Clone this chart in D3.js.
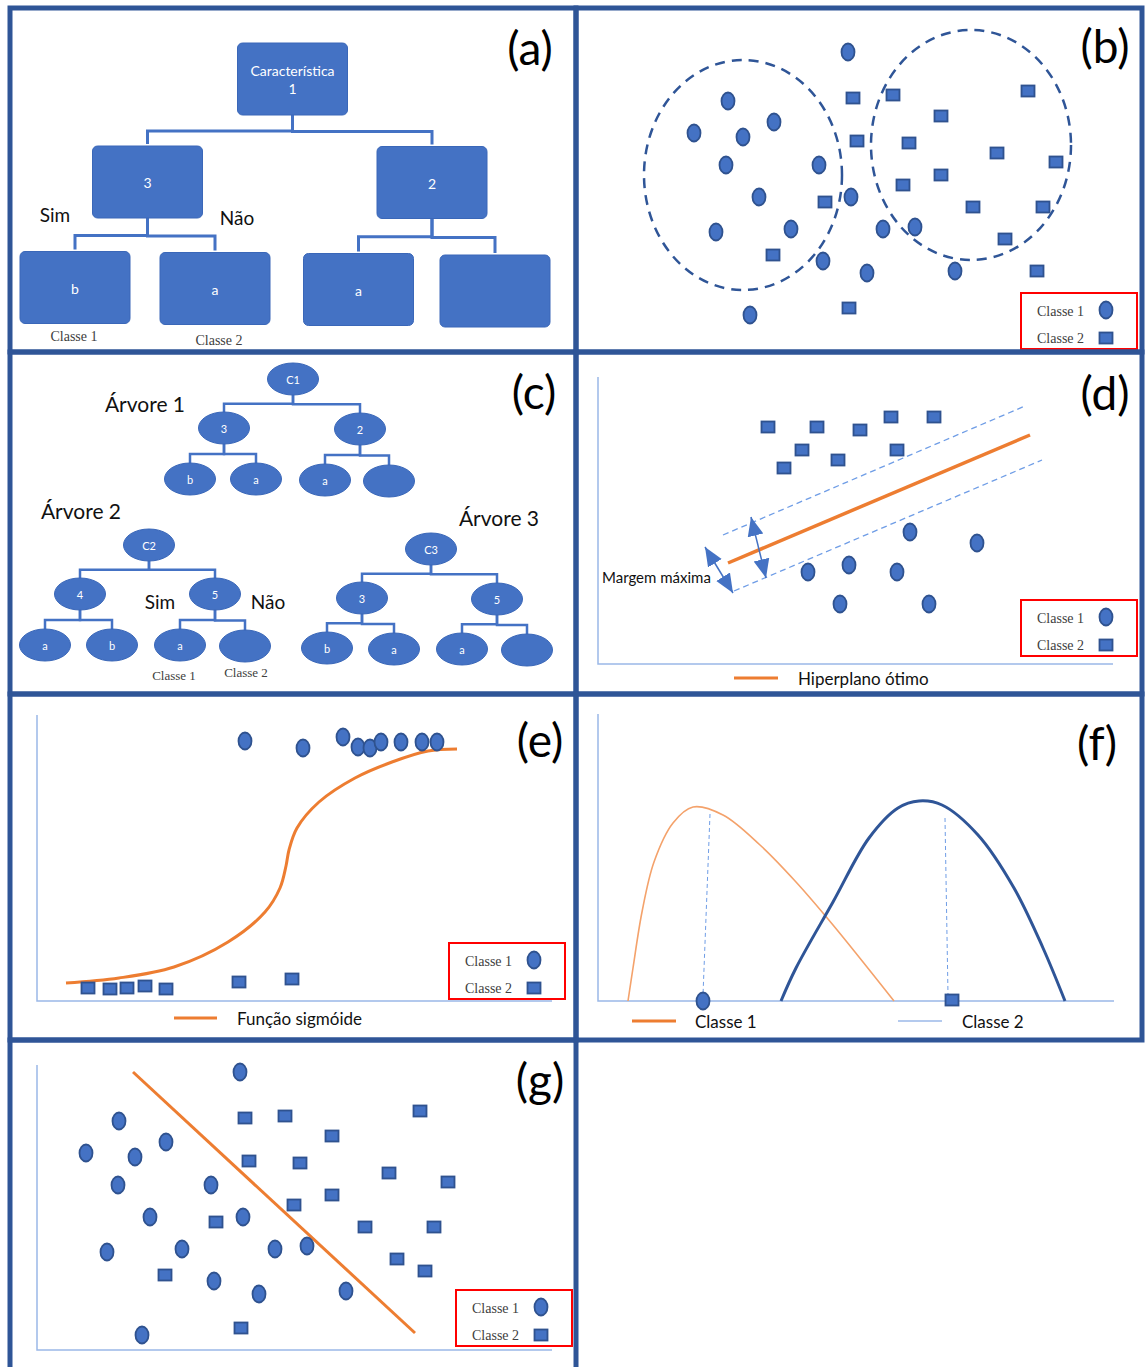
<!DOCTYPE html>
<meta charset="utf-8">
<html>
<style>
body { margin: 0; background: #fff; }
svg text { font-family: Lato, "Open Sans", sans-serif; }
svg text.serif { font-family: "Liberation Serif", "DejaVu Serif", serif; fill: #404040; }
</style>
<body>
<script src="https://cdn.jsdelivr.net/npm/d3@7"></script>
<script>

var W = 1147, H = 1367;
var blue = "#4472c4", dark = "#2f528f", frameCol = "#2f5597",
    orange = "#ed7d31", axisCol = "#9bb8e8", dashCol = "#6f9de6";

// ---- data, in panel-local pixel units ----
var panelIds = ["(a)", "(b)", "(c)", "(d)", "(e)", "(f)", "(g)"];
var legendLabels = ["Classe 1", "Classe 2"];

// trees: [label, cx, cy, parent index]
var treeA = [["Característica|1", 282.5, 71, -1], ["3", 137.5, 174, 0], ["2", 422, 174.5, 0],
  ["b", 65, 279.5, 1], ["a", 205, 280.5, 1], ["a", 348.5, 281.5, 2], ["", 485, 283, 2]];
var treeC1 = [["C1", 283, 27, -1], ["3", 214, 76, 0], ["2", 350, 77, 0],
  ["b", 180, 127, 1], ["a", 246, 127, 1], ["a", 315, 128, 2], ["", 379, 129, 2]];
var treeC2 = [["C2", 139, 193, -1], ["4", 70, 242, 0], ["5", 205, 242, 0],
  ["a", 35, 293, 1], ["b", 102, 293, 1], ["a", 170, 293, 2], ["", 235, 294, 2]];
var treeC3 = [["C3", 421, 197, -1], ["3", 352, 246, 0], ["5", 487, 247, 0],
  ["b", 317, 296, 1], ["a", 384, 297, 1], ["a", 452, 297, 2], ["", 517, 298, 2]];

// (b) clustering
var bClass1 = [[272,44],[152,93],[118,125],[167,129],[198,114],[150,157],[243,157],[183,189],[275,189],
  [140,224],[215,221],[307,221],[339,219],[247,253],[291,265],[379,263],[174,307]];
var bClass2 = [[277,90],[317,87],[452,83],[365,108],[281,133],[333,135],[421,145],[480,154],[365,167],
  [327,177],[249,194],[397,199],[467,199],[429,231],[197,247],[461,263],[273,300]];
var bClusters = [[167, 167, 99, 115], [395, 137, 100, 115]];

// (d) SVM
var dClass2 = [[192,75],[241,75],[284,78],[315,65],[358,65],[226,98],[262,108],[321,98],[208,116]];
var dClass1 = [[334,180],[401,191],[232,220],[273,213],[321,220],[264,252],[353,252]];
var dHyperplane = [[152,211],[454,83]];
var dMargins = [[[147,183],[449,54]], [[158,239],[466,108]]];
var dArrows = [[[129,195],[157,241]], [[175,165],[190,226]]];

// (e) logistic
var eClass1 = [[235,47],[293,54],[333,43],[348,53],[360,54],[371,48],[391,48],[412,48],[427,48]];
var eClass2 = [[78,294],[100,295],[117,294],[135,292],[156,295],[229,288],[282,285]];
var eSigmoid = [[56,289],[109,284],[164,273],[218,248],[255,218],[270,194],[276,172],[279,156],
  [287,134],[309,108],[345,84],[382,68],[418,57],[447,55]];

// (f) naive bayes
var fCurve1 = [[52,307],[57,274],[66,218],[78,168],[97,129],[117,113],[147,121],[184,151],[220,188],[257,231],[318,307]];
var fCurve2 = [[205,307],[220,274],[257,208],[293,144],[322,114],[343,107],[366,111],[402,141],[438,194],[467,254],[489,307]];
var fMeans = [[[134,120],[127,301]], [[369,124],[372,301]]];
var fClass1 = [[127,307]], fClass2 = [[376,306]];

// (g) linear classifier
var gClass1 = [[230,32],[109,81],[156,102],[76,113],[125,117],[108,145],[201,145],[140,177],[233,177],
  [97,212],[172,209],[265,209],[297,206],[204,241],[249,254],[336,251],[132,295]];
var gClass2 = [[235,78],[275,76],[410,71],[322,96],[239,121],[290,123],[379,133],[438,142],[322,155],
  [284,165],[206,182],[355,187],[424,187],[387,219],[415,231],[155,235],[231,288]];
var gBoundary = [[123,32],[405,293]];

// ---- layout ----
var frames = [
  {x: 10, y: 8, w: 566, h: 344}, {x: 576, y: 8, w: 566, h: 344},
  {x: 10, y: 352, w: 566, h: 342}, {x: 576, y: 352, w: 566, h: 342},
  {x: 10, y: 694, w: 566, h: 346}, {x: 576, y: 694, w: 566, h: 346},
  {x: 10, y: 1040, w: 566, h: 334}
];
var labelPos = [[520,39],[529,37],[524,39],[529,40],[530,45],[521,48],[530,39]];

var svg = d3.select("body").append("svg").attr("width", W).attr("height", H);
var defs = svg.append("defs");
defs.append("marker").attr("id", "tri")
    .attr("viewBox", "0 0 10 10").attr("refX", 10).attr("refY", 5)
    .attr("markerWidth", 19).attr("markerHeight", 19)
    .attr("markerUnits", "userSpaceOnUse").attr("orient", "auto-start-reverse")
  .append("path").attr("d", "M0,0.8L10,5L0,9.2z").attr("fill", blue);

// one group + scales per panel
var P = frames.map(function(f) {
  return {
    g: svg.append("g"),
    x: d3.scaleLinear().domain([0, f.w]).range([f.x, f.x + f.w]),
    y: d3.scaleLinear().domain([0, f.h]).range([f.y, f.y + f.h])
  };
});

function drawCircles(p, data) {
  p.g.selectAll(null).data(data).enter().append("ellipse")
    .attr("cx", d => p.x(d[0])).attr("cy", d => p.y(d[1]))
    .attr("rx", 6.5).attr("ry", 8.5)
    .attr("fill", blue).attr("stroke", dark).attr("stroke-width", 1.8);
}
function drawSquares(p, data) {
  p.g.selectAll(null).data(data).enter().append("rect")
    .attr("x", d => p.x(d[0]) - 6.5).attr("y", d => p.y(d[1]) - 5.5)
    .attr("width", 13).attr("height", 11)
    .attr("fill", blue).attr("stroke", dark).attr("stroke-width", 1.8);
}
function drawAxes(p, l, t, b, r) {
  p.g.append("path").attr("fill", "none").attr("stroke", axisCol).attr("stroke-width", 1.5)
    .attr("d", "M" + p.x(l) + "," + p.y(t) + "V" + p.y(b) + "H" + p.x(r));
}
function drawLegend(p, lx, ty) {
  p.g.append("rect").attr("x", p.x(lx)).attr("y", p.y(ty)).attr("width", 116).attr("height", 56)
    .attr("fill", "#fff").attr("stroke", "#ff0000").attr("stroke-width", 2);
  p.g.selectAll(null).data(legendLabels).enter().append("text").attr("class", "serif")
    .attr("x", p.x(lx + 16)).attr("y", (d, i) => p.y(ty + 18 + i * 27))
    .attr("dominant-baseline", "central").attr("font-size", 14).text(d => d);
  drawCircles(p, [[lx + 85, ty + 17]]);
  drawSquares(p, [[lx + 85, ty + 45]]);
}
function lineLegend(p, x0, x1, y, col, w, label, tx) {
  p.g.append("line").attr("x1", p.x(x0)).attr("x2", p.x(x1)).attr("y1", p.y(y)).attr("y2", p.y(y))
    .attr("stroke", col).attr("stroke-width", w);
  p.g.append("text").attr("x", p.x(tx)).attr("y", p.y(y)).attr("dominant-baseline", "central")
    .attr("font-size", 17).attr("fill", "#111").text(label);
}
function note(p, x, y, s, size, cls) {
  return p.g.append("text").attr("class", cls || null).attr("x", p.x(x)).attr("y", p.y(y))
    .attr("text-anchor", "middle").attr("dominant-baseline", "central")
    .attr("font-size", size).attr("fill", "#111").text(s);
}
function drawTree(p, nodes, kind, w, h, gap, sw, fs) {
  p.g.selectAll(null).data(nodes.filter(n => n[3] >= 0)).enter().append("path")
    .attr("fill", "none").attr("stroke", blue).attr("stroke-width", sw)
    .attr("d", function(n) {
      var par = nodes[n[3]];
      var b = p.y(par[2] + h / 2), t = p.y(n[2] - h / 2) - gap;
      var m = b + (t + gap - b) * 0.52;
      return "M" + p.x(par[1]) + "," + b + "V" + m + "H" + p.x(n[1]) + "V" + t;
    });
  var node = p.g.selectAll(null).data(nodes).enter().append("g")
    .attr("transform", n => "translate(" + p.x(n[1]) + "," + p.y(n[2]) + ")");
  if (kind === "box") {
    node.append("rect").attr("x", -w / 2).attr("y", -h / 2).attr("width", w).attr("height", h)
      .attr("rx", 5).attr("fill", blue).attr("stroke", "#3a67b8").attr("stroke-width", 1);
  } else {
    node.append("ellipse").attr("rx", w / 2).attr("ry", h / 2)
      .attr("fill", blue).attr("stroke", "#3a67b8").attr("stroke-width", 1);
  }
  var txt = node.append("text").attr("text-anchor", "middle").attr("fill", "#fff")
    .attr("font-size", fs).attr("dominant-baseline", "central");
  txt.each(function(n) {
    var parts = n[0].split("|"), t = d3.select(this);
    parts.forEach(function(s, i) {
      t.append("tspan").attr("x", 0).attr("y", (i - (parts.length - 1) / 2) * 18).text(s);
    });
  });
}

// (a) decision tree
drawTree(P[0], treeA, "box", 110, 72, 2, 3, 14);
note(P[0], 45, 206, "Sim", 19);
note(P[0], 227, 209, "Não", 19);
note(P[0], 64, 328, "Classe 1", 14, "serif");
note(P[0], 209, 332, "Classe 2", 14, "serif");

// (b) clusters
P[1].g.selectAll(null).data(bClusters).enter().append("ellipse")
  .attr("cx", d => P[1].x(d[0])).attr("cy", d => P[1].y(d[1]))
  .attr("rx", d => d[2]).attr("ry", d => d[3])
  .attr("fill", "none").attr("stroke", frameCol).attr("stroke-width", 2.5)
  .attr("stroke-dasharray", "10,7");
drawCircles(P[1], bClass1);
drawSquares(P[1], bClass2);
drawLegend(P[1], 445, 285);

// (c) random forest
drawTree(P[2], treeC1, "ellipse", 51, 32, 0, 2.5, 11);
drawTree(P[2], treeC2, "ellipse", 51, 32, 0, 2.5, 11);
drawTree(P[2], treeC3, "ellipse", 51, 32, 0, 2.5, 11);
note(P[2], 135, 51, "Árvore 1", 21);
note(P[2], 71, 158, "Árvore 2", 21);
note(P[2], 489, 165, "Árvore 3", 21);
note(P[2], 150, 249, "Sim", 19);
note(P[2], 258, 249, "Não", 19);
note(P[2], 164, 323, "Classe 1", 13, "serif");
note(P[2], 236, 320, "Classe 2", 13, "serif");

// (d) SVM
var pd = P[3], seg = d3.line().x(d => pd.x(d[0])).y(d => pd.y(d[1]));
drawAxes(pd, 22, 25, 312, 537);
pd.g.selectAll(null).data(dMargins).enter().append("path").attr("d", seg)
  .attr("stroke", dashCol).attr("stroke-width", 1.3).attr("stroke-dasharray", "6,4").attr("fill", "none");
pd.g.append("path").attr("d", seg(dHyperplane)).attr("stroke", orange).attr("stroke-width", 3.5);
pd.g.selectAll(null).data(dArrows).enter().append("path").attr("d", seg)
  .attr("stroke", blue).attr("stroke-width", 1.5)
  .attr("marker-start", "url(#tri)").attr("marker-end", "url(#tri)");
drawSquares(pd, dClass2);
drawCircles(pd, dClass1);
pd.g.append("text").attr("x", pd.x(26)).attr("y", pd.y(225)).attr("dominant-baseline", "central")
  .attr("font-size", 15).attr("fill", "#111").text("Margem máxima");
drawLegend(pd, 445, 248);
lineLegend(pd, 158, 202, 326, orange, 3, "Hiperplano ótimo", 222);

// (e) logistic regression
var pe = P[4];
drawAxes(pe, 27, 21, 307, 542);
pe.g.append("path").attr("fill", "none").attr("stroke", orange).attr("stroke-width", 3)
  .attr("d", d3.line().x(d => pe.x(d[0])).y(d => pe.y(d[1])).curve(d3.curveCatmullRom)(eSigmoid));
drawCircles(pe, eClass1);
drawSquares(pe, eClass2);
drawLegend(pe, 439, 249);
lineLegend(pe, 164, 207, 324, orange, 3, "Função sigmóide", 227);

// (f) naive bayes
var pf = P[5], curve = d3.line().x(d => pf.x(d[0])).y(d => pf.y(d[1])).curve(d3.curveCatmullRom);
drawAxes(pf, 22, 20, 307, 538);
pf.g.append("path").attr("d", curve(fCurve1)).attr("fill", "none").attr("stroke", "#f4a26b").attr("stroke-width", 1.6);
pf.g.append("path").attr("d", curve(fCurve2)).attr("fill", "none").attr("stroke", frameCol).attr("stroke-width", 3);
pf.g.selectAll(null).data(fMeans).enter().append("path")
  .attr("d", d3.line().x(d => pf.x(d[0])).y(d => pf.y(d[1])))
  .attr("stroke", dashCol).attr("stroke-width", 1).attr("stroke-dasharray", "4,3");
drawCircles(pf, fClass1);
drawSquares(pf, fClass2);
lineLegend(pf, 56, 100, 327, orange, 3, "Classe 1", 119);
lineLegend(pf, 322, 366, 327, axisCol, 1.5, "Classe 2", 386);

// (g) linear separation
var pg = P[6];
drawAxes(pg, 27, 25, 310, 542);
pg.g.append("path").attr("stroke", orange).attr("stroke-width", 3)
  .attr("d", d3.line().x(d => pg.x(d[0])).y(d => pg.y(d[1]))(gBoundary));
drawCircles(pg, gClass1);
drawSquares(pg, gClass2);
drawLegend(pg, 446, 250);

// panel letters
P.forEach(function(p, i) {
  p.g.append("text").attr("x", p.x(labelPos[i][0])).attr("y", p.y(labelPos[i][1]))
    .attr("text-anchor", "middle").attr("dominant-baseline", "central")
    .attr("font-size", 46).attr("fill", "#000").text(panelIds[i]);
});

// frames on top
svg.append("g").selectAll("rect").data(frames).enter().append("rect")
  .attr("x", d => d.x).attr("y", d => d.y).attr("width", d => d.w).attr("height", d => d.h)
  .attr("fill", "none").attr("stroke", frameCol).attr("stroke-width", 5);

</script>
</body>
</html>
